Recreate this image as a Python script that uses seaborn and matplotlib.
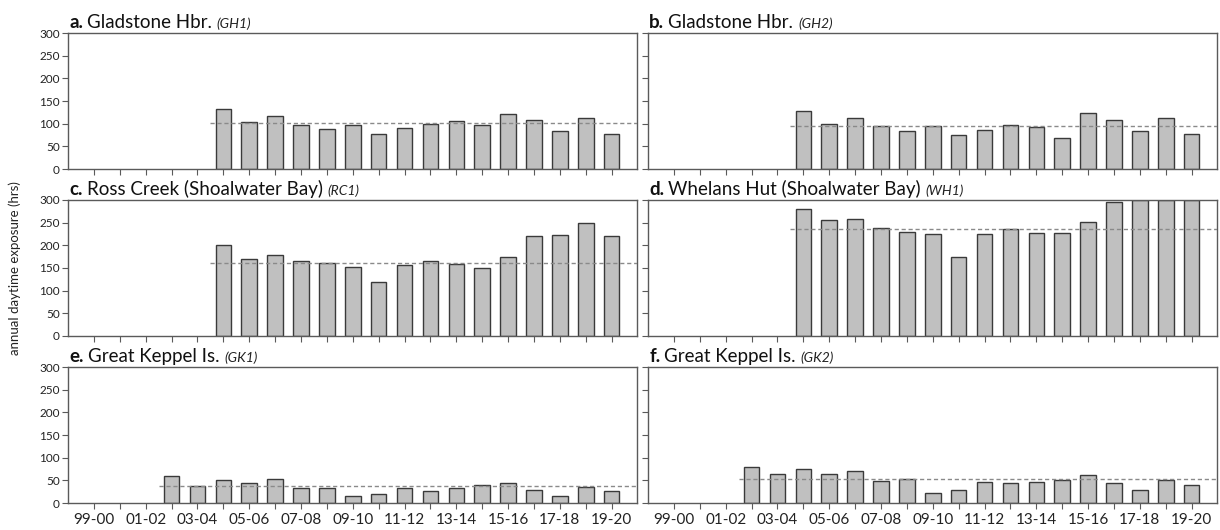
import matplotlib
matplotlib.use("Agg")
import matplotlib.pyplot as plt
import seaborn as sns
import pandas as pd
import numpy as np

sns.set_style("white")
plt.rcParams['font.family'] = ['Lato', 'DejaVu Sans']

seasons = ['99-00', '00-01', '01-02', '02-03', '03-04', '04-05', '05-06', '06-07',
           '07-08', '08-09', '09-10', '10-11', '11-12', '12-13', '13-14', '14-15',
           '15-16', '16-17', '17-18', '18-19', '19-20']

# panel data (first season with data, then values)
gh1_start = '04-05'
gh1 = [133, 103, 118, 97, 89, 97, 78, 91, 100, 105, 96, 122, 109, 83, 112, 77]
gh2_start = '04-05'
gh2 = [128, 99, 113, 94, 83, 94, 75, 86, 97, 92, 69, 123, 109, 83, 113, 77]
rc1_start = '04-05'
rc1 = [200, 169, 178, 165, 162, 152, 119, 157, 165, 159, 150, 174, 220, 222, 249, 220]
wh1_start = '04-05'
wh1 = [280, 255, 257, 238, 229, 224, 174, 226, 235, 228, 228, 251, 295, 299, 300, 300]
gk1_start = '02-03'
gk1 = [59, 37, 51, 45, 53, 33, 34, 15, 19, 33, 27, 32, 40, 45, 28, 15, 36, 26]
gk2_start = '02-03'
gk2 = [79, 64, 76, 64, 70, 48, 53, 22, 28, 46, 45, 46, 50, 61, 44, 28, 50, 39]

baseline_means = [101, 95, 162, 236, 37, 54]

panel_letters = ['a.', 'b.', 'c.', 'd.', 'e.', 'f.']
panel_names = ['Gladstone Hbr.', 'Gladstone Hbr.', 'Ross Creek (Shoalwater Bay)',
               'Whelans Hut (Shoalwater Bay)', 'Great Keppel Is.', 'Great Keppel Is.']
panel_codes = ['(GH1)', '(GH2)', '(RC1)', '(WH1)', '(GK1)', '(GK2)']

series = [(gh1_start, gh1), (gh2_start, gh2), (rc1_start, rc1),
          (wh1_start, wh1), (gk1_start, gk1), (gk2_start, gk2)]

fig = plt.figure(figsize=(12.2, 5.3), dpi=100)
W, H = 1220, 530
lefts = [68, 648]
tops = [33, 200, 367]
aw, ah = 569, 136

edge_col = '#5a5a5a'
axes = []
for i in range(6):
    r, c = divmod(i, 2)
    l = lefts[c] / W
    b = 1 - (tops[r] + ah) / H
    ax = fig.add_axes([l, b, aw / W, ah / H])
    axes.append(ax)
    start, vals = series[i]
    s0 = seasons.index(start)
    df = pd.DataFrame({'season': seasons[s0:s0 + len(vals)], 'hours': vals})
    sns.barplot(data=df, x='season', y='hours', order=seasons, color='#c0c0c0',
                saturation=1, edgecolor='#3a3a3a', linewidth=1.0, width=0.6,
                errorbar=None, ax=ax)
    ax.hlines(baseline_means[i], s0 - 0.5, 21, colors='#8a8a8a',
              linestyles=(0, (3, 2)), linewidth=1.0, zorder=5)
    ax.set_xlim(-1.0, 20.98)
    ax.set_ylim(0, 300)
    ax.set_yticks(np.arange(0, 301, 50))
    ax.set_xlabel('')
    ax.set_ylabel('')
    for sp in ax.spines.values():
        sp.set_visible(True)
        sp.set_color(edge_col)
        sp.set_linewidth(1.0)
    ax.tick_params(axis='both', direction='out', length=4, width=0.8, color=edge_col,
                   left=True, bottom=True)
    ax.tick_params(axis='y', labelsize=8.5, pad=2, labelcolor='#222222')
    ax.tick_params(axis='x', labelsize=11, pad=3, labelcolor='#222222')
    ax.set_xticks(range(len(seasons)))
    if r == 2:
        ax.set_xticklabels([s if k % 2 == 0 else '' for k, s in enumerate(seasons)])
    else:
        ax.set_xticklabels([])
    if c == 1:
        ax.set_yticklabels([])

fig.canvas.draw()
renderer = fig.canvas.get_renderer()
for i, ax in enumerate(axes):
    t1 = ax.text(0.002, 1.035, panel_letters[i], transform=ax.transAxes,
                 fontsize=13.5, fontweight='bold', va='baseline', ha='left', color='#111111')
    bb1 = t1.get_window_extent(renderer)
    x2 = bb1.x1 + 4
    inv = ax.transAxes.inverted()
    xa = inv.transform((x2, 0))[0]
    t2 = ax.text(xa, 1.035, panel_names[i], transform=ax.transAxes,
                 fontsize=13.5, va='baseline', ha='left', color='#111111')
    bb2 = t2.get_window_extent(renderer)
    xb = inv.transform((bb2.x1 + 5, 0))[0]
    ax.text(xb, 1.035, panel_codes[i], transform=ax.transAxes,
            fontsize=10, fontstyle='italic', va='baseline', ha='left', color='#222222')

fig.text(15 / W, 1 - 268 / H, 'annual daytime exposure (hrs)', rotation=90,
         ha='center', va='center', fontsize=9.5, color='#222222')

fig.savefig('out.png', dpi=100)
